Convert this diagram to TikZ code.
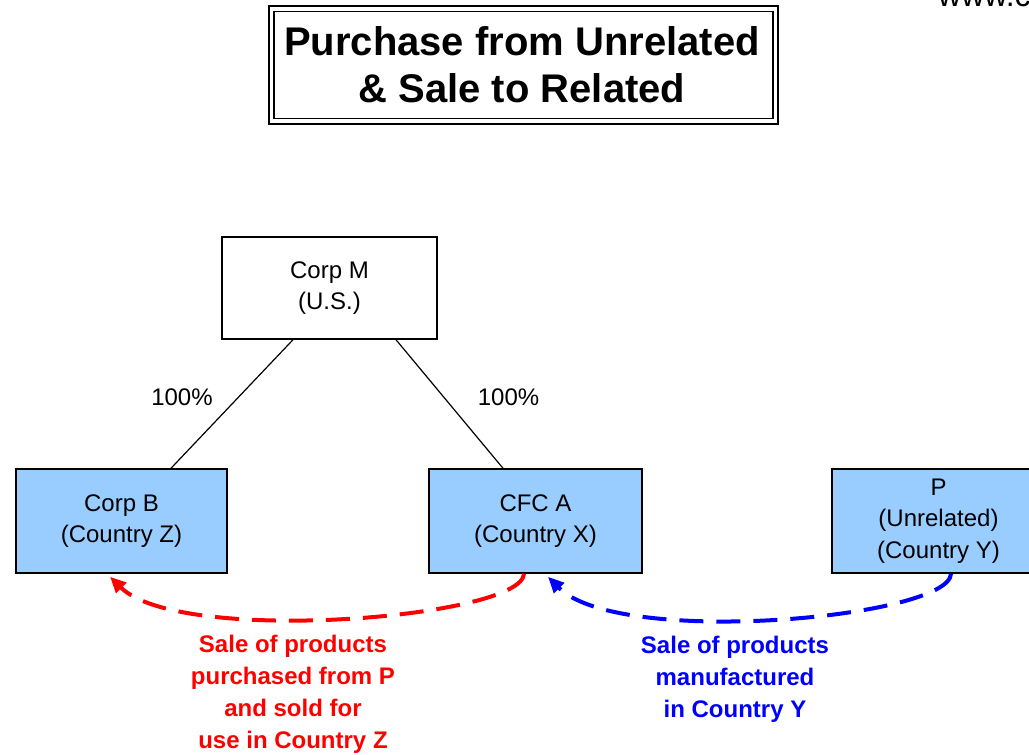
\documentclass[tikz,border=0pt]{standalone}
\usepackage{fontspec}
\setmainfont{Liberation Sans}
\usetikzlibrary{arrows.meta}
\definecolor{boxblue}{RGB}{153,204,255}
\definecolor{flowred}{RGB}{255,0,0}
\definecolor{flowblue}{RGB}{0,0,255}
\begin{document}
\begin{tikzpicture}[x=1pt,y=-1pt,
  entity/.style={draw=black, line width=1.5pt, fill=boxblue, minimum width=211pt,
    minimum height=104pt, inner sep=0pt, align=center,
    font=\fontsize{24}{31.5}\selectfont},
  plain/.style={font=\fontsize{24}{31.5}\selectfont, inner sep=0pt},
  flowlabel/.style={font=\bfseries\fontsize{24}{32}\selectfont, align=center, inner sep=0pt},
  owner/.style={line width=1.2pt},
  flow/.style={line width=4pt, dash pattern=on 24pt off 13pt,
    -{Triangle[length=16pt,width=14pt]}}]
\useasboundingbox (0,0) rectangle (1029,755);
% title
\draw[line width=2.5pt] (269,6) rectangle (778,124);
\draw[line width=1.5pt] (274,11.5) rectangle (773,118.5);
\node[font=\bfseries\fontsize{40}{47}\selectfont, align=center, inner sep=0pt] (title) at (522,65)
  {Purchase from Unrelated\\\& Sale to Related};
\node[font=\fontsize{32}{36}\selectfont, anchor=base west, inner sep=0pt] (www) at (938,6) {www.c};
% boxes
\node[entity, fill=white, minimum width=215pt, minimum height=102pt] (M) at (329.5,288) {Corp M\\(U.S.)};
\node[entity] (B) at (121.5,521) {Corp B\\(Country Z)};
\node[entity, minimum width=213pt] (A) at (535.5,521) {CFC A\\(Country X)};
\node[entity, minimum width=213pt] (P) at (938.5,521) {P\\(Unrelated)\\(Country Y)};
% ownership
\draw[owner] ([xshift=-36.5pt]M.south) -- ([xshift=49.5pt]B.north);
\draw[owner] ([xshift=66.5pt]M.south) -- ([xshift=-32.5pt]A.north);
\node[plain, anchor=base] (pl) at (182,405) {100\%};
\node[plain, anchor=base] (pr) at (508.5,405) {100\%};
% flows
\draw[flow, draw=flowred] ([xshift=-11.5pt]A.south) .. controls (522,618) and (180,646) .. ([xshift=-11.5pt,yshift=-3pt]B.south);
\draw[flow, draw=flowblue] ([xshift=12.5pt]P.south) .. controls (949,618) and (618,648) .. ([xshift=12.5pt,yshift=-3pt]A.south);
\node[flowlabel, text=flowred] (rl) at (293,694)
  {Sale of products\\purchased from P\\and sold for\\use in Country Z};
\node[flowlabel, text=flowblue] (bl) at (735,679)
  {Sale of products\\manufactured\\in Country Y};
\end{tikzpicture}
\end{document}
